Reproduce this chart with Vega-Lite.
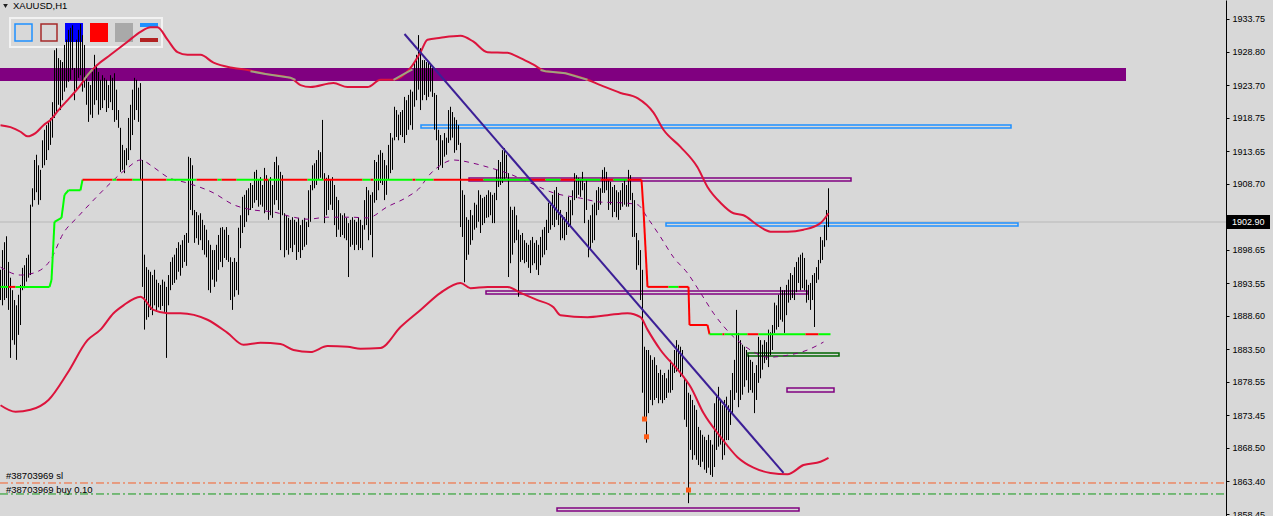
{
"$schema": "https://vega.github.io/schema/vega-lite/v6.json",
"width": 1226, "height": 516,
"autosize": {"type": "none"},
"padding": {"left": 0, "top": 0, "right": 47, "bottom": 0},
"background": "#d8d8d8",
"config": {"view": {"stroke": null}},
"datasets": {
"fills": [
{"i":-0.25,"i2":562.25,"p":1924.47,"p2":1926.14,"c":"#800080","s":"#800080"},
{"i":4.75,"i2":80.75,"p":1929.49,"p2":1933.9,"c":"#d8d8d8","s":"#f2f2f2"}
],
"icons": [
{"i":32.25,"i2":41.25,"p":1930.25,"p2":1933.14,"c":"#0000ff"},
{"i":44.75,"i2":53.75,"p":1930.25,"p2":1933.14,"c":"#ff0000"},
{"i":57.25,"i2":66.25,"p":1930.25,"p2":1933.14,"c":"#a9a9a9"},
{"i":69.75,"i2":78.75,"p":1932.53,"p2":1933.14,"c":"#1e90ff"},
{"i":69.75,"i2":78.75,"p":1930.25,"p2":1930.86,"c":"#b22222"}
],
"outlines": [
{"i":7.25,"i2":15.75,"p":1930.4,"p2":1932.99,"c":"#1e90ff"},
{"i":20.25,"i2":28.25,"p":1930.4,"p2":1932.99,"c":"#a52a2a"},
{"i":210.25,"i2":505.25,"p":1917.17,"p2":1917.63,"c":"#1e90ff"},
{"i":332.75,"i2":508.75,"p":1902.27,"p2":1902.72,"c":"#1e90ff"},
{"i":234.25,"i2":425.25,"p":1909.11,"p2":1909.57,"c":"#800080"},
{"i":242.75,"i2":403.75,"p":1891.92,"p2":1892.38,"c":"#800080"},
{"i":393.25,"i2":416.75,"p":1877.02,"p2":1877.63,"c":"#800080"},
{"i":278.25,"i2":399.25,"p":1858.92,"p2":1859.37,"c":"#800080"},
{"i":373.75,"i2":419.25,"p":1882.49,"p2":1882.95,"c":"#006400"}
],
"hlines": [
{"i":-0.25,"i2":612.75,"p":1863.17,"c":"#f5602a"},
{"i":-0.25,"i2":612.75,"p":1861.5,"c":"#15991a"}
],
"pline": [{"i":-0.25,"i2":612.75,"p":1902.87}],
"bars": [
{"i":0,"p":1891.0,"p2":1895.6},{"i":1,"p":1890.2,"p2":1898.6},{"i":2,"p":1891.0,"p2":1899.8},{"i":3,"p":1891.3,"p2":1900.7},{"i":4,"p":1889.5,"p2":1896.8},
{"i":5,"p":1882.2,"p2":1894.4},{"i":6,"p":1884.9,"p2":1892.5},{"i":7,"p":1884.2,"p2":1891.0},{"i":8,"p":1881.9,"p2":1890.2},{"i":9,"p":1885.7,"p2":1891.8},
{"i":10,"p":1887.2,"p2":1893.3},{"i":11,"p":1892.5,"p2":1895.9},{"i":12,"p":1892.8,"p2":1896.3},{"i":13,"p":1893.8,"p2":1897.4},{"i":14,"p":1894.4,"p2":1897.9},
{"i":15,"p":1894.8,"p2":1905.5},{"i":16,"p":1905.2,"p2":1908.0},{"i":17,"p":1906.2,"p2":1912.3},{"i":18,"p":1907.4,"p2":1913.1},{"i":19,"p":1905.5,"p2":1911.5},
{"i":20,"p":1906.2,"p2":1910.8},{"i":21,"p":1911.1,"p2":1915.3},{"i":22,"p":1911.5,"p2":1916.9},{"i":23,"p":1912.3,"p2":1917.6},{"i":24,"p":1913.8,"p2":1918.1},
{"i":25,"p":1914.6,"p2":1918.7},{"i":26,"p":1915.7,"p2":1921.1},{"i":27,"p":1918.7,"p2":1929.0},{"i":28,"p":1919.6,"p2":1929.3},{"i":29,"p":1920.7,"p2":1927.8},
{"i":30,"p":1919.9,"p2":1927.5},{"i":31,"p":1921.4,"p2":1927.2},{"i":32,"p":1922.7,"p2":1929.8},{"i":33,"p":1923.3,"p2":1930.6},{"i":34,"p":1924.2,"p2":1932.1},
{"i":35,"p":1924.5,"p2":1932.4},{"i":36,"p":1926.0,"p2":1932.8},{"i":37,"p":1921.4,"p2":1926.3},{"i":38,"p":1923.0,"p2":1930.6},{"i":39,"p":1924.8,"p2":1932.1},
{"i":40,"p":1925.2,"p2":1933.0},{"i":41,"p":1922.7,"p2":1931.3},{"i":42,"p":1923.3,"p2":1929.8},{"i":43,"p":1920.7,"p2":1925.2},{"i":44,"p":1918.1,"p2":1924.2},
{"i":45,"p":1919.2,"p2":1923.7},{"i":46,"p":1918.7,"p2":1925.7},{"i":47,"p":1920.7,"p2":1928.3},{"i":48,"p":1921.4,"p2":1926.8},{"i":49,"p":1919.2,"p2":1925.7},
{"i":50,"p":1919.9,"p2":1924.5},{"i":51,"p":1920.2,"p2":1925.2},{"i":52,"p":1921.4,"p2":1924.8},{"i":53,"p":1919.6,"p2":1924.5},{"i":54,"p":1920.2,"p2":1923.7},
{"i":55,"p":1921.1,"p2":1925.2},{"i":56,"p":1919.9,"p2":1924.8},{"i":57,"p":1918.1,"p2":1925.5},{"i":58,"p":1918.4,"p2":1923.0},{"i":59,"p":1917.2,"p2":1919.9},
{"i":60,"p":1910.5,"p2":1917.2},{"i":61,"p":1910.8,"p2":1914.6},{"i":62,"p":1910.3,"p2":1913.8},{"i":63,"p":1911.5,"p2":1914.1},{"i":64,"p":1912.3,"p2":1918.7},
{"i":65,"p":1913.8,"p2":1920.7},{"i":66,"p":1916.1,"p2":1923.0},{"i":67,"p":1918.4,"p2":1924.8},{"i":68,"p":1919.9,"p2":1924.5},{"i":69,"p":1918.1,"p2":1923.3},
{"i":70,"p":1909.3,"p2":1924.0},{"i":71,"p":1893.0,"p2":1912.3},{"i":72,"p":1886.5,"p2":1897.9},{"i":73,"p":1888.0,"p2":1896.0},{"i":74,"p":1888.4,"p2":1895.6},
{"i":75,"p":1889.5,"p2":1895.3},{"i":76,"p":1888.7,"p2":1894.8},{"i":77,"p":1890.2,"p2":1895.6},{"i":78,"p":1889.2,"p2":1894.1},{"i":79,"p":1889.9,"p2":1893.6},
{"i":80,"p":1889.5,"p2":1893.3},{"i":81,"p":1890.1,"p2":1894.1},{"i":82,"p":1889.2,"p2":1893.8},{"i":83,"p":1882.2,"p2":1893.0},{"i":84,"p":1890.2,"p2":1894.8},
{"i":85,"p":1892.5,"p2":1896.8},{"i":86,"p":1893.3,"p2":1897.5},{"i":87,"p":1893.6,"p2":1897.9},{"i":88,"p":1894.1,"p2":1898.9},{"i":89,"p":1895.3,"p2":1899.8},
{"i":90,"p":1894.7,"p2":1899.4},{"i":91,"p":1895.9,"p2":1900.1},{"i":92,"p":1896.8,"p2":1900.9},{"i":93,"p":1896.2,"p2":1901.2},{"i":94,"p":1899.7,"p2":1912.8},
{"i":95,"p":1904.7,"p2":1912.6},{"i":96,"p":1903.9,"p2":1911.5},{"i":97,"p":1899.7,"p2":1904.7},{"i":98,"p":1900.4,"p2":1904.4},{"i":99,"p":1899.4,"p2":1903.9},
{"i":100,"p":1900.1,"p2":1904.2},{"i":101,"p":1898.6,"p2":1903.2},{"i":102,"p":1897.9,"p2":1902.4},{"i":103,"p":1897.5,"p2":1901.7},{"i":104,"p":1892.5,"p2":1900.1},
{"i":105,"p":1892.1,"p2":1899.4},{"i":106,"p":1894.1,"p2":1898.6},{"i":107,"p":1893.0,"p2":1898.6},{"i":108,"p":1893.8,"p2":1899.4},{"i":109,"p":1895.6,"p2":1900.9},
{"i":110,"p":1896.8,"p2":1902.0},{"i":111,"p":1896.0,"p2":1902.1},{"i":112,"p":1897.4,"p2":1901.7},{"i":113,"p":1897.1,"p2":1902.1},{"i":114,"p":1896.8,"p2":1900.9},
{"i":115,"p":1891.0,"p2":1897.5},{"i":116,"p":1889.5,"p2":1896.8},{"i":117,"p":1891.5,"p2":1897.4},{"i":118,"p":1892.5,"p2":1896.8},{"i":119,"p":1891.8,"p2":1902.0},
{"i":120,"p":1898.9,"p2":1903.9},{"i":121,"p":1901.2,"p2":1906.7},{"i":122,"p":1902.1,"p2":1907.0},{"i":123,"p":1902.9,"p2":1907.7},{"i":124,"p":1903.9,"p2":1908.0},
{"i":125,"p":1904.7,"p2":1908.8},{"i":126,"p":1905.0,"p2":1908.5},{"i":127,"p":1905.8,"p2":1910.5},{"i":128,"p":1906.2,"p2":1910.8},{"i":129,"p":1905.2,"p2":1909.3},
{"i":130,"p":1905.5,"p2":1909.7},{"i":131,"p":1905.2,"p2":1908.5},{"i":132,"p":1904.2,"p2":1911.1},{"i":133,"p":1904.7,"p2":1910.0},{"i":134,"p":1903.2,"p2":1909.3},
{"i":135,"p":1903.9,"p2":1909.7},{"i":136,"p":1903.5,"p2":1908.5},{"i":137,"p":1905.5,"p2":1912.0},{"i":138,"p":1906.2,"p2":1912.8},{"i":139,"p":1904.7,"p2":1911.5},
{"i":140,"p":1898.6,"p2":1910.5},{"i":141,"p":1903.9,"p2":1910.0},{"i":142,"p":1897.5,"p2":1904.2},{"i":143,"p":1898.6,"p2":1903.9},{"i":144,"p":1897.9,"p2":1903.5},
{"i":145,"p":1898.9,"p2":1903.2},{"i":146,"p":1898.3,"p2":1903.6},{"i":147,"p":1899.4,"p2":1903.2},{"i":148,"p":1897.1,"p2":1902.9},{"i":149,"p":1898.3,"p2":1903.5},
{"i":150,"p":1897.4,"p2":1902.4},{"i":151,"p":1898.6,"p2":1903.2},{"i":152,"p":1899.1,"p2":1903.5},{"i":153,"p":1899.4,"p2":1902.9},{"i":154,"p":1902.1,"p2":1907.7},
{"i":155,"p":1902.9,"p2":1908.5},{"i":156,"p":1907.7,"p2":1911.5},{"i":157,"p":1908.0,"p2":1911.8},{"i":158,"p":1908.5,"p2":1912.3},{"i":159,"p":1909.3,"p2":1913.8},
{"i":160,"p":1909.6,"p2":1913.5},{"i":161,"p":1909.3,"p2":1918.4},{"i":162,"p":1902.7,"p2":1910.3},{"i":163,"p":1903.9,"p2":1909.6},{"i":164,"p":1904.7,"p2":1910.0},
{"i":165,"p":1905.5,"p2":1909.3},{"i":166,"p":1904.7,"p2":1909.7},{"i":167,"p":1902.4,"p2":1908.5},{"i":168,"p":1900.6,"p2":1906.7},{"i":169,"p":1901.7,"p2":1906.2},
{"i":170,"p":1900.6,"p2":1904.2},{"i":171,"p":1900.9,"p2":1903.9},{"i":172,"p":1900.4,"p2":1904.2},{"i":173,"p":1900.1,"p2":1903.5},{"i":174,"p":1894.5,"p2":1902.7},
{"i":175,"p":1899.1,"p2":1903.2},{"i":176,"p":1899.4,"p2":1903.6},{"i":177,"p":1898.6,"p2":1903.2},{"i":178,"p":1899.4,"p2":1902.9},{"i":179,"p":1898.6,"p2":1903.6},
{"i":180,"p":1898.9,"p2":1903.2},{"i":181,"p":1898.6,"p2":1902.4},{"i":182,"p":1901.7,"p2":1906.2},{"i":183,"p":1902.4,"p2":1908.2},{"i":184,"p":1900.1,"p2":1907.7},
{"i":185,"p":1900.9,"p2":1907.0},{"i":186,"p":1897.5,"p2":1907.4},{"i":187,"p":1905.8,"p2":1912.3},{"i":188,"p":1906.2,"p2":1912.0},{"i":189,"p":1907.7,"p2":1913.1},
{"i":190,"p":1908.8,"p2":1913.8},{"i":191,"p":1908.5,"p2":1913.4},{"i":192,"p":1906.2,"p2":1912.3},{"i":193,"p":1907.0,"p2":1911.5},{"i":194,"p":1909.3,"p2":1914.6},
{"i":195,"p":1910.3,"p2":1916.4},{"i":196,"p":1910.8,"p2":1915.7},{"i":197,"p":1915.3,"p2":1920.4},{"i":198,"p":1915.8,"p2":1919.9},{"i":199,"p":1915.3,"p2":1919.2},
{"i":200,"p":1916.1,"p2":1919.6},{"i":201,"p":1915.8,"p2":1919.9},{"i":202,"p":1914.9,"p2":1921.9},{"i":203,"p":1916.1,"p2":1921.4},{"i":204,"p":1916.9,"p2":1922.2},
{"i":205,"p":1917.6,"p2":1923.0},{"i":206,"p":1916.9,"p2":1922.7},{"i":207,"p":1920.4,"p2":1927.1},{"i":208,"p":1921.4,"p2":1928.3},{"i":209,"p":1923.0,"p2":1931.3},
{"i":210,"p":1919.9,"p2":1929.3},{"i":211,"p":1921.4,"p2":1927.5},{"i":212,"p":1922.2,"p2":1927.5},{"i":213,"p":1921.4,"p2":1927.2},{"i":214,"p":1921.9,"p2":1927.1},
{"i":215,"p":1922.7,"p2":1926.8},{"i":216,"p":1921.9,"p2":1926.3},{"i":217,"p":1916.9,"p2":1922.5},{"i":218,"p":1915.3,"p2":1922.2},{"i":219,"p":1910.8,"p2":1916.9},
{"i":220,"p":1911.5,"p2":1916.1},{"i":221,"p":1911.1,"p2":1915.3},{"i":222,"p":1912.8,"p2":1916.4},{"i":223,"p":1913.1,"p2":1915.7},{"i":224,"p":1914.9,"p2":1919.9},
{"i":225,"p":1915.3,"p2":1920.4},{"i":226,"p":1915.7,"p2":1919.6},{"i":227,"p":1913.4,"p2":1918.8},{"i":228,"p":1913.8,"p2":1918.4},{"i":229,"p":1914.6,"p2":1917.6},
{"i":230,"p":1902.1,"p2":1914.9},{"i":231,"p":1900.6,"p2":1907.7},{"i":232,"p":1893.7,"p2":1907.0},{"i":233,"p":1897.1,"p2":1903.6},{"i":234,"p":1897.9,"p2":1903.2},
{"i":235,"p":1899.4,"p2":1904.7},{"i":236,"p":1900.1,"p2":1903.9},{"i":237,"p":1901.7,"p2":1905.8},{"i":238,"p":1902.0,"p2":1905.5},{"i":239,"p":1902.9,"p2":1907.7},
{"i":240,"p":1901.2,"p2":1907.0},{"i":241,"p":1902.4,"p2":1906.5},{"i":242,"p":1902.7,"p2":1906.7},{"i":243,"p":1903.5,"p2":1907.0},{"i":244,"p":1903.6,"p2":1907.7},
{"i":245,"p":1903.9,"p2":1907.4},{"i":246,"p":1902.7,"p2":1907.0},{"i":247,"p":1902.7,"p2":1907.3},{"i":248,"p":1906.2,"p2":1910.8},{"i":249,"p":1908.2,"p2":1912.3},
{"i":250,"p":1908.5,"p2":1912.0},{"i":251,"p":1908.8,"p2":1913.8},{"i":252,"p":1909.3,"p2":1914.1},{"i":253,"p":1909.6,"p2":1913.1},{"i":254,"p":1894.5,"p2":1910.3},
{"i":255,"p":1896.6,"p2":1905.2},{"i":256,"p":1897.9,"p2":1904.7},{"i":257,"p":1899.7,"p2":1905.2},{"i":258,"p":1900.1,"p2":1903.9},{"i":259,"p":1891.5,"p2":1901.7},
{"i":260,"p":1896.8,"p2":1900.9},{"i":261,"p":1897.1,"p2":1901.2},{"i":262,"p":1896.6,"p2":1900.1},{"i":263,"p":1896.8,"p2":1899.7},{"i":264,"p":1895.9,"p2":1899.4},
{"i":265,"p":1895.1,"p2":1900.1},{"i":266,"p":1896.3,"p2":1900.6},{"i":267,"p":1896.6,"p2":1899.7},{"i":268,"p":1895.6,"p2":1900.1},{"i":269,"p":1894.8,"p2":1899.4},
{"i":270,"p":1896.3,"p2":1900.6},{"i":271,"p":1897.5,"p2":1901.7},{"i":272,"p":1897.9,"p2":1902.1},{"i":273,"p":1898.6,"p2":1903.2},{"i":274,"p":1901.2,"p2":1905.8},
{"i":275,"p":1901.7,"p2":1905.5},{"i":276,"p":1902.4,"p2":1907.0},{"i":277,"p":1902.1,"p2":1907.7},{"i":278,"p":1903.2,"p2":1908.2},{"i":279,"p":1902.4,"p2":1907.3},
{"i":280,"p":1900.1,"p2":1904.7},{"i":281,"p":1900.4,"p2":1903.9},{"i":282,"p":1900.1,"p2":1903.6},{"i":283,"p":1900.9,"p2":1904.4},{"i":284,"p":1902.1,"p2":1906.7},
{"i":285,"p":1902.4,"p2":1906.2},{"i":286,"p":1903.9,"p2":1907.7},{"i":287,"p":1906.2,"p2":1910.3},{"i":288,"p":1906.5,"p2":1910.0},{"i":289,"p":1907.0,"p2":1909.6},
{"i":290,"p":1906.7,"p2":1909.3},{"i":291,"p":1907.7,"p2":1910.5},{"i":292,"p":1902.7,"p2":1908.8},{"i":293,"p":1904.7,"p2":1909.3},{"i":294,"p":1897.5,"p2":1903.2},
{"i":295,"p":1898.6,"p2":1903.9},{"i":296,"p":1899.7,"p2":1905.5},{"i":297,"p":1900.1,"p2":1905.8},{"i":298,"p":1903.9,"p2":1907.7},{"i":299,"p":1904.7,"p2":1908.2},
{"i":300,"p":1905.5,"p2":1908.0},{"i":301,"p":1907.3,"p2":1910.8},{"i":302,"p":1907.3,"p2":1911.2},{"i":303,"p":1907.7,"p2":1910.5},{"i":304,"p":1904.7,"p2":1909.3},
{"i":305,"p":1905.5,"p2":1909.0},{"i":306,"p":1903.6,"p2":1908.2},{"i":307,"p":1904.4,"p2":1908.5},{"i":308,"p":1903.6,"p2":1907.7},{"i":309,"p":1903.2,"p2":1907.4},
{"i":310,"p":1904.7,"p2":1907.7},{"i":311,"p":1905.2,"p2":1908.8},{"i":312,"p":1905.5,"p2":1909.3},{"i":313,"p":1905.2,"p2":1908.5},{"i":314,"p":1905.2,"p2":1910.8},
{"i":315,"p":1906.2,"p2":1910.0},{"i":316,"p":1900.6,"p2":1907.3},{"i":317,"p":1900.6,"p2":1906.2},{"i":318,"p":1895.6,"p2":1901.2},{"i":319,"p":1896.3,"p2":1900.1},
{"i":320,"p":1891.0,"p2":1898.6},{"i":321,"p":1876.9,"p2":1895.6},{"i":322,"p":1872.8,"p2":1883.9},{"i":323,"p":1869.3,"p2":1883.4},{"i":324,"p":1873.8,"p2":1883.4},
{"i":325,"p":1875.8,"p2":1882.6},{"i":326,"p":1875.0,"p2":1881.9},{"i":327,"p":1875.8,"p2":1882.3},{"i":328,"p":1876.1,"p2":1881.1},{"i":329,"p":1875.3,"p2":1879.9},
{"i":330,"p":1875.8,"p2":1880.4},{"i":331,"p":1875.3,"p2":1879.6},{"i":332,"p":1875.8,"p2":1879.9},{"i":333,"p":1876.1,"p2":1879.1},{"i":334,"p":1876.9,"p2":1880.4},
{"i":335,"p":1876.9,"p2":1881.9},{"i":336,"p":1877.3,"p2":1881.1},{"i":337,"p":1879.9,"p2":1883.4},{"i":338,"p":1880.1,"p2":1884.9},{"i":339,"p":1880.4,"p2":1884.2},
{"i":340,"p":1879.3,"p2":1883.9},{"i":341,"p":1879.6,"p2":1883.4},{"i":342,"p":1872.8,"p2":1879.3},{"i":343,"p":1871.7,"p2":1878.8},{"i":344,"p":1860.1,"p2":1876.9},
{"i":345,"p":1868.2,"p2":1876.6},{"i":346,"p":1866.7,"p2":1875.8},{"i":347,"p":1867.4,"p2":1875.0},{"i":348,"p":1866.7,"p2":1874.3},{"i":349,"p":1865.9,"p2":1871.7},
{"i":350,"p":1865.6,"p2":1871.2},{"i":351,"p":1866.4,"p2":1870.5},{"i":352,"p":1865.2,"p2":1870.2},{"i":353,"p":1864.7,"p2":1869.7},{"i":354,"p":1865.5,"p2":1870.5},
{"i":355,"p":1864.4,"p2":1869.7},{"i":356,"p":1864.1,"p2":1869.0},{"i":357,"p":1865.6,"p2":1875.3},{"i":358,"p":1868.2,"p2":1876.6},{"i":359,"p":1868.7,"p2":1877.8},
{"i":360,"p":1869.0,"p2":1875.8},{"i":361,"p":1866.7,"p2":1875.0},{"i":362,"p":1867.4,"p2":1875.8},{"i":363,"p":1869.7,"p2":1876.3},{"i":364,"p":1869.7,"p2":1875.0},
{"i":365,"p":1872.0,"p2":1877.3},{"i":366,"p":1873.8,"p2":1879.9},{"i":367,"p":1875.8,"p2":1881.9},{"i":368,"p":1876.9,"p2":1889.5},{"i":369,"p":1874.7,"p2":1886.0},
{"i":370,"p":1875.8,"p2":1884.9},{"i":371,"p":1876.6,"p2":1884.2},{"i":372,"p":1877.8,"p2":1883.9},{"i":373,"p":1878.8,"p2":1883.4},{"i":374,"p":1876.9,"p2":1882.6},
{"i":375,"p":1877.3,"p2":1881.9},{"i":376,"p":1876.9,"p2":1881.6},{"i":377,"p":1873.8,"p2":1879.9},{"i":378,"p":1875.8,"p2":1881.1},{"i":379,"p":1878.4,"p2":1885.4},
{"i":380,"p":1879.1,"p2":1884.9},{"i":381,"p":1880.4,"p2":1884.2},{"i":382,"p":1881.4,"p2":1884.9},{"i":383,"p":1881.9,"p2":1884.6},{"i":384,"p":1880.8,"p2":1886.5},
{"i":385,"p":1882.6,"p2":1886.1},{"i":386,"p":1883.4,"p2":1887.2},{"i":387,"p":1886.0,"p2":1890.6},{"i":388,"p":1886.5,"p2":1890.2},{"i":389,"p":1886.9,"p2":1891.8},
{"i":390,"p":1888.0,"p2":1893.0},{"i":391,"p":1887.7,"p2":1892.5},{"i":392,"p":1886.0,"p2":1892.5},{"i":393,"p":1888.7,"p2":1893.3},{"i":394,"p":1890.6,"p2":1894.1},
{"i":395,"p":1891.0,"p2":1895.1},{"i":396,"p":1891.3,"p2":1894.8},{"i":397,"p":1891.0,"p2":1896.0},{"i":398,"p":1892.2,"p2":1896.8},{"i":399,"p":1893.6,"p2":1897.5},
{"i":400,"p":1892.5,"p2":1897.9},{"i":401,"p":1892.8,"p2":1898.2},{"i":402,"p":1892.5,"p2":1897.4},{"i":403,"p":1890.6,"p2":1894.1},{"i":404,"p":1891.0,"p2":1893.3},
{"i":405,"p":1889.5,"p2":1893.6},{"i":406,"p":1891.0,"p2":1894.8},{"i":407,"p":1886.9,"p2":1895.1},{"i":408,"p":1893.6,"p2":1896.0},{"i":409,"p":1894.1,"p2":1897.1},
{"i":410,"p":1896.6,"p2":1900.6},{"i":411,"p":1897.1,"p2":1900.1},{"i":412,"p":1899.1,"p2":1902.4},{"i":413,"p":1900.1,"p2":1904.7},{"i":414,"p":1902.1,"p2":1908.0}
],
"bb": [
{"g":"u","i":0,"p":1917.6},{"g":"u","i":5,"p":1917.3},{"g":"u","i":10,"p":1916.6},{"g":"u","i":13.5,"p":1915.9},{"g":"u","i":17.5,"p":1916.4},
{"g":"u","i":21.5,"p":1917.6},{"g":"u","i":25,"p":1918.4},{"g":"u","i":29,"p":1919.9},{"g":"u","i":35,"p":1921.9},{"g":"u","i":40,"p":1923.7},
{"g":"u","i":43.5,"p":1925.2},{"g":"u","i":48.5,"p":1926.8},{"g":"u","i":55,"p":1928.3},{"g":"u","i":63.5,"p":1930.3},{"g":"u","i":70,"p":1931.8},
{"g":"u","i":75,"p":1932.5},{"g":"u","i":78.5,"p":1932.5},{"g":"u","i":83.5,"p":1930.6},{"g":"u","i":88.5,"p":1928.7},{"g":"u","i":93.5,"p":1928.3},
{"g":"u","i":100,"p":1928.3},{"g":"u","i":106.5,"p":1927.1},{"g":"u","i":116.5,"p":1926.3},{"g":"u","i":123.5,"p":1926.0},{"g":"u","i":132.5,"p":1925.4},
{"g":"u","i":145,"p":1924.8},{"g":"u","i":150,"p":1923.7},{"g":"u","i":155,"p":1923.4},{"g":"u","i":166.5,"p":1924.0},{"g":"u","i":173.5,"p":1923.4},
{"g":"u","i":183.5,"p":1923.4},{"g":"u","i":190,"p":1924.5},{"g":"u","i":196.5,"p":1924.5},{"g":"u","i":205,"p":1926.3},{"g":"u","i":210,"p":1928.7},
{"g":"u","i":213.5,"p":1930.6},{"g":"u","i":220,"p":1930.9},{"g":"u","i":230,"p":1931.2},{"g":"u","i":236.5,"p":1930.3},{"g":"u","i":243.5,"p":1928.7},
{"g":"u","i":253.5,"p":1928.6},{"g":"u","i":260,"p":1927.8},{"g":"u","i":266.5,"p":1926.8},{"g":"u","i":272.5,"p":1925.8},{"g":"u","i":282.5,"p":1925.5},
{"g":"u","i":293.5,"p":1924.5},{"g":"u","i":300,"p":1923.7},{"g":"u","i":310,"p":1922.5},{"g":"u","i":318.5,"p":1921.7},{"g":"u","i":326.5,"p":1919.5},
{"g":"u","i":331.5,"p":1916.9},{"g":"u","i":340,"p":1914.3},{"g":"u","i":348.5,"p":1911.2},{"g":"u","i":353.5,"p":1908.2},{"g":"u","i":360,"p":1905.8},
{"g":"u","i":366.5,"p":1904.2},{"g":"u","i":371.5,"p":1903.9},{"g":"u","i":378.5,"p":1902.4},{"g":"u","i":385,"p":1901.4},{"g":"u","i":393.5,"p":1901.4},
{"g":"u","i":401.5,"p":1901.7},{"g":"u","i":410,"p":1902.7},{"g":"u","i":414,"p":1904.2},
{"g":"l","i":0,"p":1875.0},{"g":"l","i":7.5,"p":1874.0},{"g":"l","i":15,"p":1874.3},{"g":"l","i":24,"p":1875.8},{"g":"l","i":33.5,"p":1879.9},
{"g":"l","i":43.5,"p":1884.9},{"g":"l","i":50,"p":1886.5},{"g":"l","i":56.5,"p":1889.0},{"g":"l","i":61.5,"p":1890.2},{"g":"l","i":70,"p":1891.5},
{"g":"l","i":76.5,"p":1889.5},{"g":"l","i":83.5,"p":1889.0},{"g":"l","i":90,"p":1889.0},{"g":"l","i":103.5,"p":1888.0},{"g":"l","i":113.5,"p":1886.0},
{"g":"l","i":121.5,"p":1884.2},{"g":"l","i":130,"p":1884.5},{"g":"l","i":140,"p":1884.3},{"g":"l","i":146.5,"p":1883.4},{"g":"l","i":155,"p":1883.1},
{"g":"l","i":163.5,"p":1884.0},{"g":"l","i":173.5,"p":1883.9},{"g":"l","i":180,"p":1883.6},{"g":"l","i":190,"p":1883.7},{"g":"l","i":200,"p":1886.9},
{"g":"l","i":210,"p":1889.5},{"g":"l","i":220,"p":1892.1},{"g":"l","i":230,"p":1893.6},{"g":"l","i":235,"p":1892.8},{"g":"l","i":243.5,"p":1893.0},
{"g":"l","i":253.5,"p":1893.0},{"g":"l","i":260,"p":1892.1},{"g":"l","i":268.5,"p":1891.0},{"g":"l","i":276.5,"p":1889.9},{"g":"l","i":280,"p":1888.7},
{"g":"l","i":293.5,"p":1888.4},{"g":"l","i":303.5,"p":1888.7},{"g":"l","i":313.5,"p":1889.0},{"g":"l","i":320,"p":1888.4},{"g":"l","i":323.5,"p":1886.5},
{"g":"l","i":330,"p":1883.4},{"g":"l","i":340,"p":1879.9},{"g":"l","i":345,"p":1877.8},{"g":"l","i":351.5,"p":1873.8},{"g":"l","i":360,"p":1870.2},
{"g":"l","i":368.5,"p":1867.1},{"g":"l","i":376.5,"p":1865.5},{"g":"l","i":385,"p":1864.7},{"g":"l","i":393.5,"p":1864.5},{"g":"l","i":401.5,"p":1865.9},
{"g":"l","i":410,"p":1866.4},{"g":"l","i":414,"p":1867.0}
],
"bbx": [
{"g":"a","i":41.75,"p":1924.5},{"g":"a","i":43.5,"p":1925.2},{"g":"a","i":46,"p":1926.1},
{"g":"b","i":125,"p":1925.8},{"g":"b","i":132.5,"p":1925.4},{"g":"b","i":145,"p":1924.8},{"g":"b","i":147.5,"p":1924.5},
{"g":"c","i":196.5,"p":1924.5},{"g":"c","i":202.5,"p":1925.5},{"g":"c","i":206,"p":1926.1},
{"g":"d","i":270,"p":1926.0},{"g":"d","i":272.5,"p":1925.8},{"g":"d","i":282.5,"p":1925.5},{"g":"d","i":293.5,"p":1924.5}
],
"ma": [
{"i":0,"p":1896.0},{"i":10,"p":1894.8},{"i":16.5,"p":1895.1},{"i":25,"p":1897.1},{"i":31.5,"p":1901.2},{"i":38.5,"p":1903.6},
{"i":46.5,"p":1906.2},{"i":55,"p":1908.8},{"i":63.5,"p":1911.1},{"i":70,"p":1912.3},{"i":76.5,"p":1911.2},{"i":83.5,"p":1909.7},
{"i":93.5,"p":1908.8},{"i":106.5,"p":1907.3},{"i":116.5,"p":1905.5},{"i":126.5,"p":1904.7},{"i":136.5,"p":1904.4},{"i":146.5,"p":1903.6},
{"i":153.5,"p":1903.3},{"i":163.5,"p":1903.6},{"i":175,"p":1903.6},{"i":183.5,"p":1903.5},{"i":193.5,"p":1905.2},{"i":203.5,"p":1906.7},
{"i":210,"p":1908.2},{"i":213.5,"p":1909.7},{"i":220,"p":1911.5},{"i":226.5,"p":1912.3},{"i":236.5,"p":1911.8},{"i":245,"p":1911.1},
{"i":253.5,"p":1910.3},{"i":265,"p":1908.8},{"i":276.5,"p":1907.3},{"i":290,"p":1906.5},{"i":300,"p":1905.9},{"i":310,"p":1905.8},
{"i":318.5,"p":1905.5},{"i":323.5,"p":1903.5},{"i":330,"p":1900.6},{"i":336.5,"p":1897.5},{"i":343.5,"p":1895.1},{"i":350,"p":1892.1},
{"i":356.5,"p":1889.0},{"i":366.5,"p":1885.4},{"i":375,"p":1883.4},{"i":383.5,"p":1882.3},{"i":393.5,"p":1882.6},{"i":403.5,"p":1883.4},
{"i":411.5,"p":1884.6}
],
"st": [
{"i":0,"i2":4,"p":1893.0,"p2":1893.0,"c":"#00ff00"},{"i":4,"i2":7.5,"p":1893.0,"p2":1893.0,"c":"#ff0000"},{"i":7.5,"i2":24.5,"p":1893.0,"p2":1893.0,"c":"#00ff00"},
{"i":24.5,"i2":25.5,"p":1893.0,"p2":1894.05,"c":"#00ff00"},{"i":25.5,"i2":27,"p":1894.05,"p2":1902.9,"c":"#00ff00"},{"i":27,"i2":30.5,"p":1902.9,"p2":1903.5,"c":"#00ff00"},
{"i":30.5,"i2":32,"p":1903.5,"p2":1907.0,"c":"#00ff00"},{"i":32,"i2":34,"p":1907.0,"p2":1907.7,"c":"#00ff00"},{"i":34,"i2":40,"p":1907.7,"p2":1907.7,"c":"#00ff00"},
{"i":40,"i2":41,"p":1907.7,"p2":1909.3,"c":"#00ff00"},
{"i":41,"i2":56,"p":1909.3,"p2":1909.3,"c":"#ff0000"},{"i":56,"i2":58,"p":1909.3,"p2":1909.3,"c":"#00ff00"},{"i":58,"i2":66,"p":1909.3,"p2":1909.3,"c":"#ff0000"},
{"i":66,"i2":70,"p":1909.3,"p2":1909.3,"c":"#00ff00"},{"i":70,"i2":83,"p":1909.3,"p2":1909.3,"c":"#ff0000"},{"i":83,"i2":98,"p":1909.3,"p2":1909.3,"c":"#00ff00"},
{"i":98,"i2":108.5,"p":1909.3,"p2":1909.3,"c":"#ff0000"},{"i":108.5,"i2":110.5,"p":1909.3,"p2":1909.3,"c":"#00ff00"},{"i":110.5,"i2":118,"p":1909.3,"p2":1909.3,"c":"#ff0000"},
{"i":118,"i2":131.5,"p":1909.3,"p2":1909.3,"c":"#00ff00"},{"i":131.5,"i2":134,"p":1909.3,"p2":1909.3,"c":"#ff0000"},{"i":134,"i2":140,"p":1909.3,"p2":1909.3,"c":"#00ff00"},
{"i":140,"i2":153.5,"p":1909.3,"p2":1909.3,"c":"#ff0000"},{"i":153.5,"i2":161.5,"p":1909.3,"p2":1909.3,"c":"#00ff00"},{"i":161.5,"i2":181,"p":1909.3,"p2":1909.3,"c":"#ff0000"},
{"i":181,"i2":185,"p":1909.3,"p2":1909.3,"c":"#00ff00"},{"i":185,"i2":186.5,"p":1909.3,"p2":1909.3,"c":"#ff0000"},{"i":186.5,"i2":206,"p":1909.3,"p2":1909.3,"c":"#00ff00"},
{"i":206,"i2":207.5,"p":1909.3,"p2":1909.3,"c":"#ff0000"},{"i":207.5,"i2":216.5,"p":1909.3,"p2":1909.3,"c":"#00ff00"},{"i":216.5,"i2":241.5,"p":1909.3,"p2":1909.3,"c":"#ff0000"},
{"i":241.5,"i2":265,"p":1909.3,"p2":1909.3,"c":"#00ff00"},{"i":265,"i2":272.5,"p":1909.3,"p2":1909.3,"c":"#ff0000"},{"i":272.5,"i2":280,"p":1909.3,"p2":1909.3,"c":"#00ff00"},
{"i":280,"i2":287.5,"p":1909.3,"p2":1909.3,"c":"#ff0000"},{"i":287.5,"i2":300,"p":1909.3,"p2":1909.3,"c":"#00ff00"},{"i":300,"i2":306.5,"p":1909.3,"p2":1909.3,"c":"#ff0000"},
{"i":306.5,"i2":313.5,"p":1909.3,"p2":1909.3,"c":"#00ff00"},{"i":313.5,"i2":320.5,"p":1909.3,"p2":1909.3,"c":"#ff0000"},
{"i":320.5,"i2":321.5,"p":1909.3,"p2":1904.7,"c":"#ff0000"},{"i":321.5,"i2":323.5,"p":1904.7,"p2":1893.0,"c":"#ff0000"},
{"i":323.5,"i2":334,"p":1893.0,"p2":1893.0,"c":"#ff0000"},{"i":334,"i2":339,"p":1893.0,"p2":1893.0,"c":"#00ff00"},{"i":339,"i2":344,"p":1893.0,"p2":1893.0,"c":"#ff0000"},
{"i":344,"i2":344.5,"p":1893.0,"p2":1887.2,"c":"#ff0000"},{"i":344.5,"i2":353.5,"p":1887.2,"p2":1887.2,"c":"#ff0000"},{"i":353.5,"i2":354.5,"p":1887.2,"p2":1885.8,"c":"#ff0000"},
{"i":354.5,"i2":361,"p":1885.8,"p2":1885.8,"c":"#00ff00"},{"i":361,"i2":362,"p":1885.8,"p2":1885.8,"c":"#ff0000"},{"i":362,"i2":373.5,"p":1885.8,"p2":1885.8,"c":"#00ff00"},
{"i":373.5,"i2":379,"p":1885.8,"p2":1885.8,"c":"#ff0000"},{"i":379,"i2":402.5,"p":1885.8,"p2":1885.8,"c":"#00ff00"},{"i":402.5,"i2":409,"p":1885.8,"p2":1885.8,"c":"#ff0000"},
{"i":409,"i2":415,"p":1885.8,"p2":1885.8,"c":"#00ff00"}
],
"trend": [{"i":202,"i2":391.5,"p":1931.47,"p2":1864.7}],
"marks": [{"i":322,"p":1872.9},{"i":323,"p":1870.2},{"i":344,"p":1862.1}],
"tri": [{"i":2.5,"p":1935.73}],
"texts": [
{"i":6.25,"p":1935.8,"t":"XAUUSD,H1"},
{"i":2.75,"p":1864.16,"t":"#38703969 sl"},
{"i":2.75,"p":1862.11,"t":"#38703969 buy 0.10"}
],
"pbox": [{"i":613.25,"i2":634.75,"p":1901.81,"p2":1903.94}],
"ptext": [{"i":615.75,"p":1902.87,"t":"1902.90"}]
},
"encoding": {
"x": {"field":"i","type":"quantitative","scale":{"domain":[-0.25,612.75],"nice":false,"zero":false},"axis":null},
"y": {"field":"p","type":"quantitative","scale":{"domain":[1858.15,1936.64],"nice":false,"zero":false},
"axis":{"orient":"right","title":null,"grid":false,"values":[1933.75,1928.8,1923.7,1918.75,1913.65,1908.7,1903.6,1898.65,1893.55,1888.6,1883.5,1878.55,1873.45,1868.5,1863.4,1858.45],
"format":".2f","labelFont":"Liberation Sans","labelFontSize":9,"labelColor":"#000000","tickColor":"#000000","tickSize":3,"tickWidth":1,"domainColor":"#000000","domainWidth":1,"labelPadding":3,"labelOverlap":false,"labelFlush":false,"labelBound":false}}
},
"layer": [
{"data":{"name":"fills"},"mark":{"type":"rect","strokeWidth":2},"encoding":{"x2":{"field":"i2"},"y2":{"field":"p2"},"fill":{"field":"c","type":"nominal","scale":null},"stroke":{"field":"s","type":"nominal","scale":null}}},
{"data":{"name":"pline"},"mark":{"type":"rule","color":"#b8b8b8","strokeWidth":1},"encoding":{"x2":{"field":"i2"}}},
{"data":{"name":"hlines"},"mark":{"type":"rule","strokeWidth":1,"strokeDash":[8,3,2,3]},"encoding":{"x2":{"field":"i2"},"stroke":{"field":"c","type":"nominal","scale":null}}},
{"data":{"name":"outlines"},"mark":{"type":"rect","fillOpacity":0,"strokeWidth":1.5},"encoding":{"x2":{"field":"i2"},"y2":{"field":"p2"},"stroke":{"field":"c","type":"nominal","scale":null}}},
{"data":{"name":"icons"},"mark":{"type":"rect"},"encoding":{"x2":{"field":"i2"},"y2":{"field":"p2"},"fill":{"field":"c","type":"nominal","scale":null}}},
{"data":{"name":"bars"},"mark":{"type":"rule","color":"#000000","strokeWidth":1},"encoding":{"y2":{"field":"p2"}}},
{"data":{"name":"bb"},"mark":{"type":"line","color":"#dc143c","strokeWidth":2,"interpolate":"monotone"},"encoding":{"detail":{"field":"g","type":"nominal"}}},
{"data":{"name":"bbx"},"mark":{"type":"line","color":"#9fa27f","strokeWidth":2},"encoding":{"detail":{"field":"g","type":"nominal"}}},
{"data":{"name":"ma"},"mark":{"type":"line","color":"#800080","strokeWidth":1,"strokeDash":[5,5],"interpolate":"monotone"},"encoding":{}},
{"data":{"name":"st"},"mark":{"type":"rule","strokeWidth":2},"encoding":{"x2":{"field":"i2"},"y2":{"field":"p2"},"stroke":{"field":"c","type":"nominal","scale":null}}},
{"data":{"name":"trend"},"mark":{"type":"rule","color":"#3c1f96","strokeWidth":2},"encoding":{"x2":{"field":"i2"},"y2":{"field":"p2"}}},
{"data":{"name":"marks"},"mark":{"type":"point","shape":"square","filled":true,"size":25,"color":"#ff5a14","opacity":1},"encoding":{}},
{"data":{"name":"tri"},"mark":{"type":"point","shape":"triangle-down","filled":true,"size":22,"color":"#202020","opacity":1},"encoding":{}},
{"data":{"name":"texts"},"mark":{"type":"text","align":"left","baseline":"middle","font":"Liberation Sans","fontSize":9.5,"color":"#000000"},"encoding":{"text":{"field":"t"}}},
{"data":{"name":"pbox"},"mark":{"type":"rect","color":"#000000"},"encoding":{"x2":{"field":"i2"},"y2":{"field":"p2"}}},
{"data":{"name":"ptext"},"mark":{"type":"text","align":"left","baseline":"middle","font":"Liberation Sans","fontSize":9,"color":"#ffffff"},"encoding":{"text":{"field":"t"}}}
]
}
